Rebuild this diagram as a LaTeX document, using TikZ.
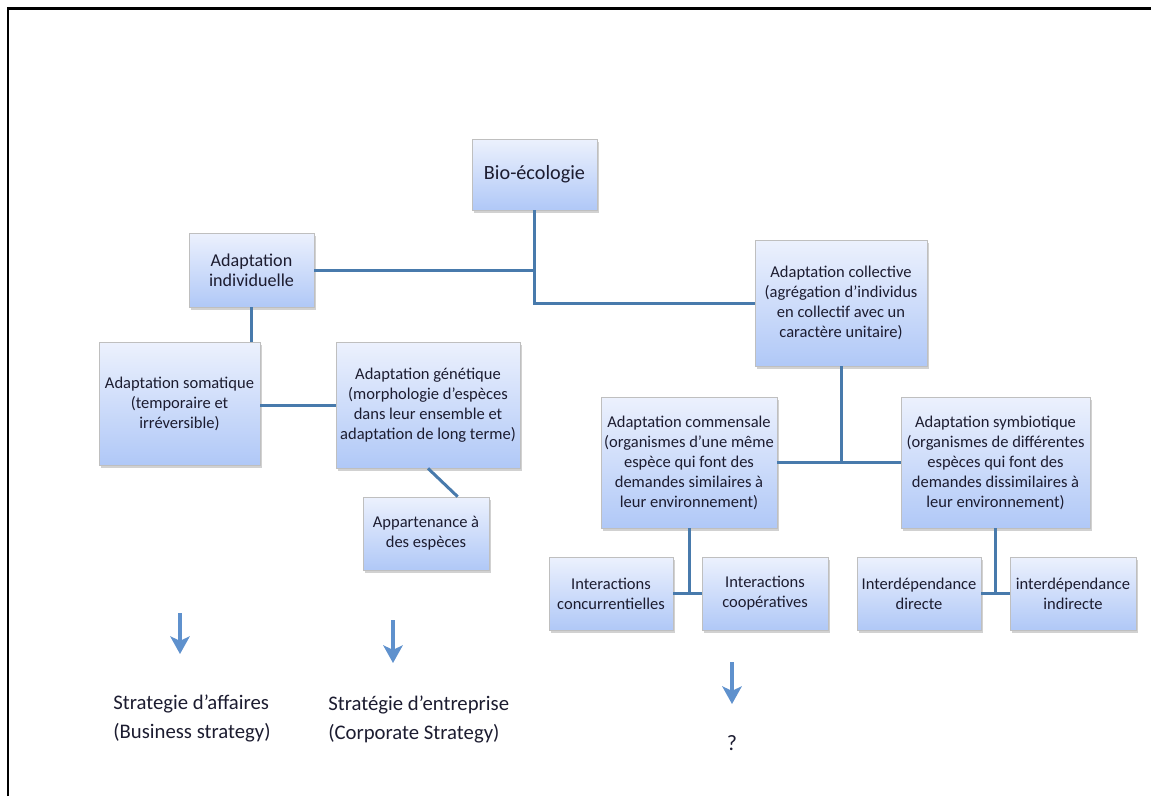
\documentclass[tikz,border=0pt]{standalone}
\usepackage{fontspec}
\setmainfont{Carlito}
\usepackage{tikz}
\usetikzlibrary{arrows.meta, positioning, calc, shadows}
\definecolor{boxtop}{RGB}{236,241,253}
\definecolor{boxbot}{RGB}{176,200,247}
\definecolor{linkblue}{RGB}{72,122,172}
\definecolor{arrowblue}{RGB}{95,145,205}
\definecolor{txtdark}{RGB}{28,28,48}

\begin{document}
\begin{tikzpicture}[x=0.02cm, y=-0.02cm,
  box/.style={draw=gray!50, line width=0.4pt, top color=boxtop, bottom color=boxbot,
    drop shadow={shadow xshift=1.2pt, shadow yshift=-1.5pt, opacity=0.45, fill=gray!80},
    align=center, text=txtdark, inner sep=1pt, font=\fontsize{9.4}{11.4}\selectfont},
  link/.style={draw=linkblue, line width=1.7pt},
  outarrow/.style={draw=arrowblue, line width=2.2pt, -{Stealth[width=11pt,length=10pt,inset=2.5pt]}},
  strat/.style={align=left, anchor=north west, text=txtdark, inner sep=0pt,
    font=\fontsize{11.8}{16.5}\selectfont}]
  \useasboundingbox (0,0) rectangle (1151,796);
  \draw[line width=1.7pt] (8,796) -- (8,8) -- (1151,8);

  \node[box, minimum width=2.5cm, minimum height=1.42cm, font=\fontsize{11.5}{13}\selectfont] (bio) at (534.5,174.5) {Bio-écologie};
  \node[box, minimum width=2.5cm, minimum height=1.48cm, font=\fontsize{10.3}{11.6}\selectfont] (indiv) at (251.5,270) {Adaptation\\individuelle};
  \node[box, minimum width=3.22cm, minimum height=2.46cm] (soma) at (179.5,403.5) {Adaptation somatique\\(temporaire et\\irréversible)};
  \node[box, minimum width=3.68cm, minimum height=2.52cm] (gene) at (428,405) {Adaptation génétique\\(morphologie d'espèces\\dans leur ensemble et\\adaptation de long terme)};
  \node[box, minimum width=2.52cm, minimum height=1.46cm] (appart) at (426,533.5) {Appartenance à\\des espèces};
  \node[box, minimum width=3.44cm, minimum height=2.52cm] (coll) at (841,303) {Adaptation collective\\(agrégation d'individus\\en collectif avec un\\caractère unitaire)};
  \node[box, minimum width=3.52cm, minimum height=2.62cm] (comm) at (689,462.5) {Adaptation commensale\\(organismes d'une même\\espèce qui font des\\demandes similaires à\\leur environnement)};
  \node[box, minimum width=3.78cm, minimum height=2.62cm] (symb) at (995.5,462.5) {Adaptation symbiotique\\(organismes de différentes\\espèces qui font des\\demandes dissimilaires à\\leur environnement)};
  \node[box, minimum width=2.48cm, minimum height=1.46cm] (conc) at (611,593.5) {Interactions\\concurrentielles};
  \node[box, minimum width=2.52cm, minimum height=1.46cm] (coop) at (765,593.5) {Interactions\\coopératives};
  \node[box, minimum width=2.48cm, minimum height=1.46cm] (direc) at (919,593.5) {Interdépendance\\directe};
  \node[box, minimum width=2.52cm, minimum height=1.46cm] (indir) at (1073,593.5) {interdépendance\\indirecte};

  % liens
  \draw[link] (bio.south) -- (bio.south |- coll.west) -- (coll.west);
  \draw[link] (indiv.east) -- (indiv.east -| bio.south);
  \draw[link] (indiv.south) -- (indiv.south |- soma.north);
  \draw[link] (gene.west -| soma.east) -- (gene.west);
  \draw[link] (gene.south) -- ($(appart.north)!0.5!(appart.north east)$);
  \draw[link] (coll.south) -- (coll.south |- comm.east);
  \draw[link] (comm.east) -- (symb.west);
  \draw[link] (comm.south) -- (comm.south |- conc.east);
  \draw[link] (conc.east) -- (coop.west);
  \draw[link] (symb.south) -- (symb.south |- direc.east);
  \draw[link] (direc.east) -- (indir.west);

  % strategies
  \coordinate (a1) at (180,613);
  \coordinate (b1) at (180,654);
  \coordinate (a2) at (393,620);
  \coordinate (b2) at (393,663);
  \coordinate (a3) at (732,662);
  \coordinate (b3) at (732,704);
  \draw[outarrow] (a1) -- (b1);
  \draw[outarrow] (a2) -- (b2);
  \draw[outarrow] (a3) -- (b3);
  \node[strat] (affaires) at (113,695) {Strategie d’affaires\\(Business strategy)};
  \node[strat] (entreprise) at (328,696) {Stratégie d’entreprise\\(Corporate Strategy)};
  \node[text=txtdark, font=\fontsize{12.5}{16}\selectfont] (question) at (732,743) {?};
\end{tikzpicture}
\end{document}
